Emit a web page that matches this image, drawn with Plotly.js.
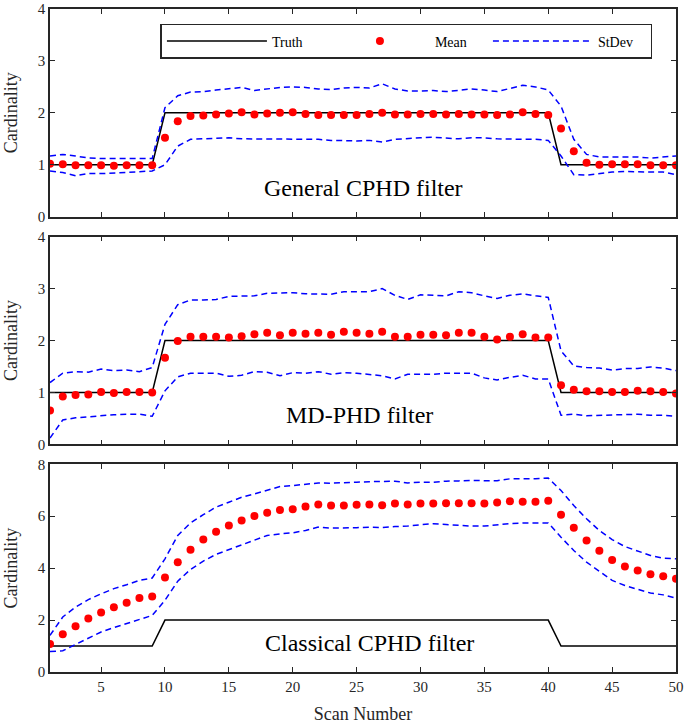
<!DOCTYPE html>
<html>
<head>
<meta charset="utf-8">
<script src="https://cdn.plot.ly/plotly-3.0.1.min.js"></script>
<style>html,body{margin:0;padding:0;background:#fff;}#chart{width:685px;height:724px;}</style>
</head>
<body>
<div id="chart"></div>
<script>
// ---------- data ----------
const scans = [1,2,3,4,5,6,7,8,9,10,11,12,13,14,15,16,17,18,19,20,21,22,23,24,25,
               26,27,28,29,30,31,32,33,34,35,36,37,38,39,40,41,42,43,44,45,46,47,48,49,50];

const truth = [1,1,1,1,1,1,1,1,1,2,2,2,2,2,2,2,2,2,2,2,2,2,2,2,2,
               2,2,2,2,2,2,2,2,2,2,2,2,2,2,2,1,1,1,1,1,1,1,1,1,1];

// General CPHD filter
const genMean = [1.02,1.01,0.99,0.99,0.99,0.98,0.99,0.99,0.99,1.52,1.84,1.94,1.95,1.97,1.99,2.01,1.97,1.99,2.00,2.01,1.98,1.96,1.96,1.96,1.96,
                 1.98,2.00,1.97,1.97,1.98,1.98,1.97,1.98,1.97,1.97,1.96,1.97,2.01,1.98,1.96,1.70,1.26,1.04,1.00,1.01,1.01,1.01,0.99,0.99,0.99];
const genUpper = [1.17,1.20,1.17,1.13,1.12,1.12,1.12,1.13,1.12,2.10,2.33,2.40,2.41,2.44,2.47,2.49,2.43,2.46,2.49,2.50,2.49,2.46,2.45,2.48,2.49,
                  2.48,2.56,2.46,2.42,2.42,2.43,2.41,2.44,2.46,2.44,2.41,2.47,2.53,2.50,2.44,2.13,1.49,1.20,1.15,1.15,1.15,1.15,1.13,1.15,1.17];
const genLower = [0.88,0.85,0.79,0.83,0.83,0.84,0.85,0.87,0.88,1.00,1.36,1.49,1.50,1.52,1.52,1.50,1.50,1.50,1.50,1.49,1.49,1.49,1.47,1.46,1.46,
                  1.47,1.44,1.49,1.51,1.52,1.53,1.52,1.50,1.52,1.52,1.50,1.49,1.49,1.49,1.47,1.17,0.81,0.80,0.83,0.86,0.87,0.86,0.86,0.86,0.81];

// MD-PHD filter
const mdMean = [0.65,0.92,0.95,0.96,1.01,0.99,1.01,1.01,1.00,1.67,1.99,2.07,2.07,2.07,2.06,2.08,2.12,2.15,2.10,2.15,2.13,2.15,2.11,2.17,2.15,
                2.13,2.17,2.07,2.07,2.11,2.11,2.10,2.15,2.15,2.07,2.02,2.07,2.12,2.06,2.06,1.14,1.05,1.02,1.02,1.01,1.01,1.03,1.02,1.01,0.98];
const mdUpper = [1.19,1.37,1.40,1.39,1.45,1.42,1.43,1.40,1.48,2.31,2.69,2.78,2.78,2.79,2.85,2.86,2.86,2.91,2.92,2.92,2.90,2.90,2.89,2.94,2.94,
                 2.94,3.00,2.87,2.79,2.88,2.87,2.86,2.94,2.92,2.86,2.81,2.87,2.90,2.86,2.83,1.80,1.51,1.48,1.47,1.43,1.46,1.46,1.49,1.47,1.42];
const mdLower = [0.12,0.47,0.51,0.53,0.56,0.57,0.58,0.58,0.54,1.03,1.30,1.37,1.37,1.37,1.31,1.33,1.40,1.39,1.32,1.38,1.37,1.40,1.35,1.38,1.37,
                 1.35,1.32,1.26,1.35,1.35,1.35,1.37,1.37,1.37,1.28,1.24,1.29,1.33,1.26,1.26,0.56,0.58,0.55,0.56,0.57,0.57,0.58,0.56,0.56,0.54];

// Classical CPHD filter
const clsMean = [1.08,1.45,1.76,2.06,2.29,2.49,2.67,2.85,2.91,3.64,4.23,4.71,5.10,5.40,5.64,5.83,6.01,6.13,6.24,6.27,6.37,6.45,6.41,6.41,6.44,
                 6.45,6.42,6.49,6.45,6.49,6.49,6.50,6.50,6.50,6.49,6.53,6.58,6.56,6.56,6.60,6.06,5.56,5.06,4.67,4.31,4.06,3.91,3.76,3.69,3.59];
const clsUpper = [1.41,2.12,2.50,2.79,3.01,3.21,3.36,3.53,3.62,4.36,5.26,5.74,6.06,6.35,6.54,6.73,6.86,6.99,7.14,7.18,7.24,7.28,7.27,7.28,7.31,
                  7.33,7.35,7.35,7.28,7.31,7.31,7.35,7.36,7.38,7.37,7.37,7.44,7.44,7.44,7.47,6.99,6.41,5.90,5.45,5.10,4.83,4.65,4.49,4.38,4.36];
const clsLower = [0.79,0.82,1.06,1.31,1.54,1.71,1.87,2.05,2.18,2.76,3.50,3.95,4.27,4.53,4.72,4.90,5.09,5.26,5.32,5.36,5.45,5.58,5.54,5.54,5.56,
                  5.58,5.56,5.60,5.62,5.67,5.71,5.68,5.64,5.62,5.62,5.67,5.72,5.74,5.73,5.74,5.19,4.68,4.23,3.87,3.53,3.33,3.18,3.04,2.97,2.85];

const panelNames = ['General CPHD filter', 'MD-PHD filter', 'Classical CPHD filter'];
const xTicks = [5,10,15,20,25,30,35,40,45,50];

// ---------- styles ----------
const FONT = 'Liberation Serif';
const AX = '#262626';
const truthLine = {color: '#000000', width: 1.5};
const sdLine = {color: '#0000ff', width: 1.5, dash: '6px,4px'};
const meanMarker = {color: '#ff0000', size: 8};

const panels = [
  {mean: genMean, up: genUpper, lo: genLower, xa: 'x',  ya: 'y'},
  {mean: mdMean,  up: mdUpper,  lo: mdLower,  xa: 'x2', ya: 'y2'},
  {mean: clsMean, up: clsUpper, lo: clsLower, xa: 'x3', ya: 'y3'}
];

const traces = [];
panels.forEach((p, i) => {
  const leg = i === 0;
  traces.push({x: scans, y: truth, xaxis: p.xa, yaxis: p.ya, type: 'scatter', mode: 'lines',
               line: truthLine, name: 'Truth', showlegend: leg, legendrank: 1});
  traces.push({x: scans, y: p.mean, xaxis: p.xa, yaxis: p.ya, type: 'scatter', mode: 'markers',
               marker: meanMarker, name: 'Mean', showlegend: leg, legendrank: 2});
  traces.push({x: scans, y: p.up, xaxis: p.xa, yaxis: p.ya, type: 'scatter', mode: 'lines',
               line: sdLine, name: 'StDev', showlegend: leg, legendrank: 3});
  traces.push({x: scans, y: p.lo, xaxis: p.xa, yaxis: p.ya, type: 'scatter', mode: 'lines',
               line: sdLine, name: 'StDev', showlegend: false});
});

function xax(anchor, labels) {
  return {
    anchor: anchor, range: [1, 50], tickvals: xTicks, showticklabels: labels,
    ticks: 'inside', ticklen: 5, tickwidth: 1.2, tickcolor: AX,
    showline: true, linecolor: AX, linewidth: 1.5, mirror: 'ticks',
    showgrid: false, zeroline: false, ticklabeloverflow: 'allow',
    tickfont: {family: FONT, size: 15, color: AX},
    title: labels ? {text: 'Scan Number', font: {family: FONT, size: 18, color: AX}, standoff: 16} : {text: ''}
  };
}
function yax(anchor, domain, maxv, dt) {
  return {
    anchor: anchor, domain: domain, range: [0, maxv], dtick: dt, tick0: 0,
    ticks: 'inside', ticklen: 5, tickwidth: 1.2, tickcolor: AX,
    showline: true, linecolor: AX, linewidth: 1.5, mirror: 'ticks',
    showgrid: false, zeroline: false, ticklabeloverflow: 'allow',
    tickfont: {family: FONT, size: 15, color: AX},
    title: {text: 'Cardinality', font: {family: FONT, size: 18, color: AX}, standoff: 15}
  };
}

const annPos = [[25.56, 0.56, 'x', 'y'], [25.25, 0.56, 'x2', 'y2'], [26.0, 1.13, 'x3', 'y3']];
const annotations = panelNames.map((t, i) => ({
  text: t, x: annPos[i][0], y: annPos[i][1], xref: annPos[i][2], yref: annPos[i][3],
  showarrow: false, xanchor: 'center', yanchor: 'middle',
  font: {family: FONT, size: 24, color: '#000'}
}));

const layout = {
  width: 685, height: 724,
  margin: {l: 50, r: 9, t: 9, b: 52},
  paper_bgcolor: '#fff', plot_bgcolor: '#fff',
  font: {family: FONT, color: AX},
  showlegend: true,
  legend: {
    orientation: 'h', x: 0.1764, y: 0.9774, xanchor: 'left', yanchor: 'top',
    bgcolor: '#fff', bordercolor: '#262626', borderwidth: 1.5,
    itemwidth: 100, entrywidth: 48, entrywidthmode: 'pixels',
    font: {family: FONT, size: 14, color: '#000'},
    traceorder: 'normal'
  },
  xaxis: xax('y', false),
  xaxis2: xax('y2', false),
  xaxis3: xax('y3', true),
  yaxis: yax('x', [0.6867, 1], 4, 1),
  yaxis2: yax('x2', [0.3434, 0.6566], 4, 1),
  yaxis3: yax('x3', [0, 0.3133], 8, 2),
  annotations: annotations
};

Plotly.newPlot('chart', traces, layout, {displayModeBar: false, responsive: false});
</script>
</body>
</html>
